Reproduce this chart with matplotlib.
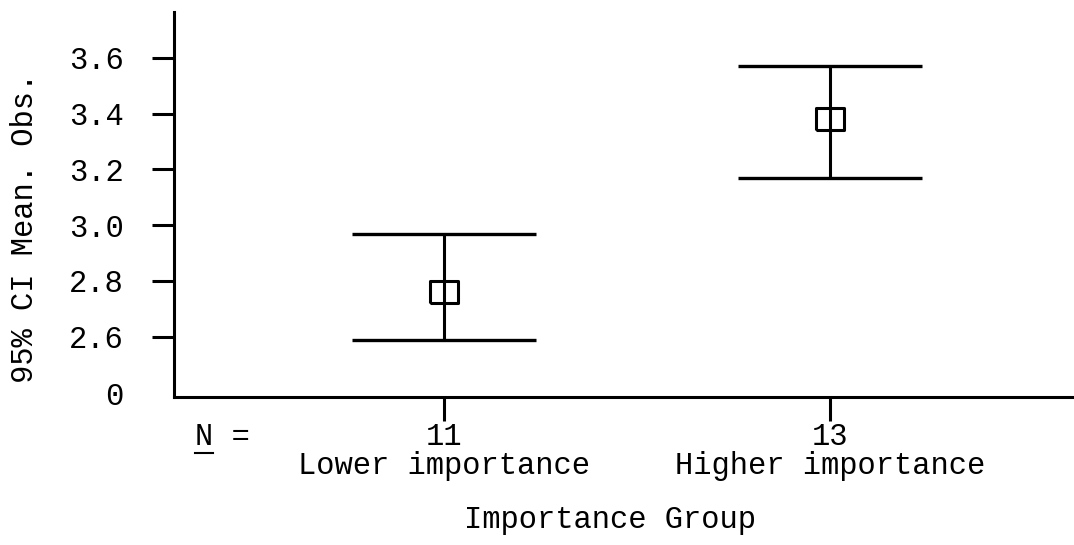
# error bar chart: 95% CI of mean observations by importance group

import matplotlib
matplotlib.use("Agg")
import matplotlib.pyplot as plt
from matplotlib.lines import Line2D

groups = ["Lower importance", "Higher importance"]
n_counts = [11, 13]
means = [2.76, 3.38]
ci_low = [2.59, 3.17]
ci_high = [2.97, 3.57]
ytick_vals = [2.6, 2.8, 3.0, 3.2, 3.4, 3.6]
ytick_labels = ["2.6", "2.8", "3.0", "3.2", "3.4", "3.6"]

FONT = "Liberation Mono"
FS = 22
plt.rcParams['font.family'] = FONT

fig = plt.figure(figsize=(10.74, 5.45), dpi=100)
ax = fig.add_axes([174 / 1074, 1 - 397 / 545, 1 - 174 / 1074, (397 - 12) / 545])

xpos = [1, 2]
yerr = [[m - lo for m, lo in zip(means, ci_low)],
        [hi - m for m, hi in zip(means, ci_high)]]
ax.errorbar(xpos, means, yerr=yerr, fmt="none", ecolor="black",
            elinewidth=2.2, capsize=66, capthick=2.4)
rect = [(-1.3, -1), (1.3, -1), (1.3, 1), (-1.3, 1), (-1.3, -1)]
ax.plot(xpos, means, linestyle="none", marker=rect, markersize=20,
        markerfacecolor="none", markeredgecolor="black", markeredgewidth=2.2)

ax.set_xlim(0.30, 2.632)
ax.set_ylim(2.384, 3.764)

for side in ["top", "right"]:
    ax.spines[side].set_visible(False)
for side in ["left", "bottom"]:
    ax.spines[side].set_linewidth(2.2)

ax.set_yticks(ytick_vals)
ax.set_yticklabels(ytick_labels, fontsize=FS)
ax.tick_params(axis="y", length=16, width=2.2, pad=20)

ax.set_xticks(xpos)
ax.set_xticklabels(["%d\n%s" % (n, g) for n, g in zip(n_counts, groups)],
                   fontsize=FS, linespacing=0.95)
ax.tick_params(axis="x", length=17, width=2.2, pad=1)

# broken axis: "0" label at the bottom of the y axis
ax.text(-(174 - 123) / 900, 0, "0", transform=ax.transAxes,
        ha="right", va="center", fontsize=FS)

fig.text(25 / 1074, 1 - 228 / 545, "95% CI Mean. Obs.", rotation=90,
         ha="center", va="center", fontsize=FS)
fig.text(610 / 1074, 1 - 520 / 545, "Importance Group",
         ha="center", va="center", fontsize=FS)
fig.text(195 / 1074, 1 - 437 / 545, "N =", ha="left", va="center", fontsize=FS)
fig.add_artist(Line2D([195 / 1074, 213 / 1074], [1 - 453 / 545, 1 - 453 / 545],
                      color="black", linewidth=1.5))

fig.savefig("out.png", dpi=100)
